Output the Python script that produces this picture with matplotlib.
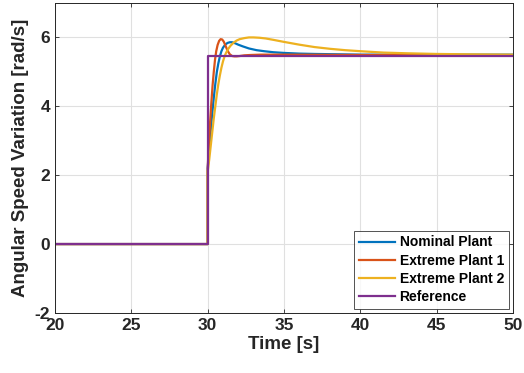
import matplotlib
matplotlib.use("Agg")
import matplotlib.pyplot as plt

# Reference signal
t_ref = [20, 30, 30, 50]
y_ref = [0, 0, 5.45, 5.45]

# Nominal plant
t_nom = [20, 30, 30, 30.1, 30.2, 30.3, 30.4, 30.5, 30.6, 30.7, 30.8, 30.9, 31.0, 31.15, 31.3, 31.45, 31.6,
         31.8, 32.0, 32.3, 32.7, 33.2, 33.7, 34.3, 35.0, 36.0, 37.0, 38.5, 40.0, 43.0, 46.0, 50.0]
y_nom = [0, 0, 2.2, 2.75, 3.3, 3.8, 4.25, 4.65, 5.0, 5.25, 5.45, 5.6, 5.7, 5.79, 5.84, 5.86, 5.86,
         5.83, 5.79, 5.74, 5.68, 5.63, 5.6, 5.57, 5.55, 5.53, 5.52, 5.51, 5.5, 5.5, 5.5, 5.5]

# Extreme plant 1
t_ex1 = [20, 30, 30, 30.08, 30.16, 30.24, 30.32, 30.4, 30.48, 30.56, 30.65, 30.75, 30.85, 30.95, 31.05,
         31.15, 31.25, 31.35, 31.45, 31.6, 31.75, 31.9, 32.1, 32.4, 32.8, 33.5, 35.0, 40.0, 50.0]
y_ex1 = [0, 0, 2.2, 2.9, 3.55, 4.1, 4.6, 5.0, 5.35, 5.6, 5.78, 5.9, 5.95, 5.94, 5.88,
         5.78, 5.67, 5.58, 5.51, 5.46, 5.45, 5.45, 5.46, 5.48, 5.49, 5.5, 5.5, 5.49, 5.48]

# Extreme plant 2
t_ex2 = [20, 30, 30, 30.1, 30.2, 30.3, 30.4, 30.5, 30.6, 30.7, 30.8, 30.9, 31.0, 31.1, 31.2, 31.35, 31.5,
         31.7, 31.9, 32.1, 32.4, 32.7, 33.0, 33.4, 33.8, 34.3, 35.0, 36.0, 37.0, 38.0, 39.0, 40.0, 41.5,
         43.0, 45.0, 47.0, 50.0]
y_ex2 = [0, 0, 2.1, 2.45, 2.85, 3.25, 3.65, 4.0, 4.35, 4.65, 4.9, 5.12, 5.3, 5.44, 5.55, 5.67, 5.76,
         5.85, 5.91, 5.95, 5.98, 6.0, 6.0, 5.99, 5.97, 5.93, 5.87, 5.79, 5.72, 5.67, 5.63, 5.6, 5.56,
         5.54, 5.52, 5.51, 5.5]

labels = ["Nominal Plant", "Extreme Plant 1", "Extreme Plant 2", "Reference"]
colors = ["#0072BD", "#D95319", "#EDB120", "#7E2F8E"]

plt.rcParams['font.family'] = ['Liberation Sans', 'DejaVu Sans']
plt.rcParams['font.weight'] = 'bold'
plt.rcParams['axes.unicode_minus'] = False

fig = plt.figure(figsize=(5.24, 3.73), dpi=100)
ax = fig.add_axes([0.105, 0.161, 0.874, 0.831])

series = [(t_nom, y_nom), (t_ex1, y_ex1), (t_ex2, y_ex2), (t_ref, y_ref)]
for (t, y), lab, c in zip(series, labels, colors):
    ax.plot(t, y, color=c, lw=1.6, label=lab)

ax.set_xlim(20, 50)
ax.set_ylim(-2, 7)
ax.set_xticks([20, 25, 30, 35, 40, 45, 50])
ax.set_yticks([-2, 0, 2, 4, 6])
ax.grid(True, color='#e0e0e0', lw=0.8)
ax.set_axisbelow(True)
ax.tick_params(direction='in', top=True, right=True, labelsize=12.5, colors='#262626', length=3, width=0.6)
for sp in ax.spines.values():
    sp.set_color('#262626')
    sp.set_linewidth(0.7)
ax.set_xlabel('Time [s]', fontsize=13.5, fontweight='bold', color='#262626', labelpad=2)
ax.set_ylabel('Angular Speed Variation [rad/s]', fontsize=13.5, fontweight='bold', color='#262626', labelpad=4)

leg = ax.legend(loc='lower right', fontsize=10, frameon=True, fancybox=False, edgecolor='#262626',
                handlelength=2.6, handletextpad=0.3, borderpad=0.35, labelspacing=0.3,
                borderaxespad=0.3)
leg.get_frame().set_linewidth(0.7)
for txt in leg.get_texts():
    txt.set_fontweight('bold')

fig.savefig('out.png', dpi=100)
